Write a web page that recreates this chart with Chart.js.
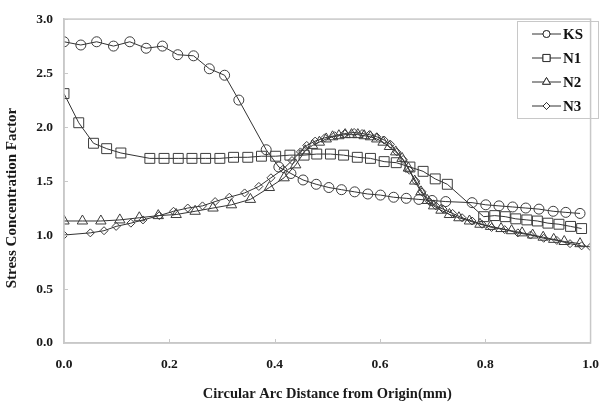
<!DOCTYPE html>
<html>
<head>
<meta charset="utf-8">
<script src="https://cdn.jsdelivr.net/npm/chart.js@4.4.1/dist/chart.umd.min.js"></script>
<style>
  html, body { margin: 0; padding: 0; background: #fff; }
  #wrap { width: 612px; height: 409px; }
</style>
</head>
<body>
<div id="wrap"><canvas id="grafico"></canvas></div>
<script>
'use strict';

// Stress concentration factor along the arc, one pair of arrays per model
const ksX = [0, 0.032, 0.062, 0.094, 0.125, 0.156, 0.187, 0.216, 0.246, 0.276, 0.305, 0.332,
    0.384, 0.408, 0.431, 0.454, 0.479, 0.503, 0.527, 0.552, 0.577, 0.601, 0.626, 0.650, 0.674,
    0.699, 0.725, 0.775, 0.801, 0.826, 0.852, 0.877, 0.902, 0.929, 0.953, 0.980];
const ksY = [2.79, 2.76, 2.79, 2.75, 2.79, 2.73, 2.75, 2.67, 2.66, 2.54, 2.48, 2.25,
    1.79, 1.63, 1.57, 1.51, 1.47, 1.44, 1.42, 1.40, 1.38, 1.37, 1.35, 1.34, 1.33,
    1.32, 1.31, 1.30, 1.28, 1.27, 1.26, 1.25, 1.24, 1.22, 1.21, 1.20];

const n1X = [0, 0.028, 0.056, 0.081, 0.108, 0.163, 0.190, 0.217, 0.243, 0.269, 0.296, 0.322,
    0.349, 0.375, 0.402, 0.429, 0.456, 0.480, 0.506, 0.531, 0.557, 0.582, 0.608, 0.631, 0.657,
    0.682, 0.705, 0.728, 0.797, 0.818, 0.838, 0.858, 0.879, 0.899, 0.919, 0.940, 0.962, 0.983];
const n1Y = [2.31, 2.04, 1.85, 1.80, 1.76, 1.71, 1.71, 1.71, 1.71, 1.71, 1.71, 1.72,
    1.72, 1.73, 1.73, 1.74, 1.74, 1.75, 1.75, 1.74, 1.72, 1.71, 1.68, 1.67, 1.63,
    1.59, 1.52, 1.47, 1.17, 1.18, 1.17, 1.15, 1.14, 1.13, 1.11, 1.10, 1.08, 1.06];

const n2X = [0, 0.035, 0.070, 0.106, 0.143, 0.179, 0.213, 0.249, 0.283, 0.318, 0.354, 0.390,
    0.418, 0.440, 0.458, 0.472, 0.485, 0.498, 0.510, 0.522, 0.534, 0.546, 0.558, 0.570, 0.582,
    0.594, 0.606, 0.618, 0.630, 0.642, 0.654, 0.666, 0.678, 0.690, 0.702, 0.716, 0.732, 0.750,
    0.770, 0.790, 0.810, 0.830, 0.850, 0.870, 0.890, 0.910, 0.930, 0.950, 0.980];
const n2Y = [1.13, 1.13, 1.13, 1.14, 1.16, 1.18, 1.19, 1.22, 1.25, 1.28, 1.33, 1.44,
    1.53, 1.65, 1.78, 1.83, 1.86, 1.89, 1.91, 1.92, 1.93, 1.93, 1.93, 1.92, 1.91,
    1.89, 1.86, 1.82, 1.77, 1.71, 1.62, 1.50, 1.40, 1.32, 1.27, 1.23, 1.19, 1.16,
    1.13, 1.10, 1.08, 1.06, 1.04, 1.02, 1.00, 0.98, 0.96, 0.94, 0.92];

const n3X = [0, 0.050, 0.076, 0.099, 0.127, 0.150, 0.181, 0.208, 0.235, 0.263, 0.287, 0.314,
    0.343, 0.370, 0.393, 0.416, 0.433, 0.449, 0.461, 0.477, 0.495, 0.514, 0.533, 0.551, 0.566,
    0.580, 0.594, 0.608, 0.620, 0.632, 0.644, 0.656, 0.668, 0.680, 0.694, 0.706, 0.720, 0.738,
    0.756, 0.775, 0.794, 0.812, 0.837, 0.862, 0.886, 0.911, 0.936, 0.961, 0.983, 1.0];
const n3Y = [1.00, 1.02, 1.04, 1.08, 1.11, 1.14, 1.18, 1.22, 1.25, 1.27, 1.31, 1.35,
    1.39, 1.45, 1.53, 1.61, 1.69, 1.77, 1.83, 1.87, 1.90, 1.92, 1.94, 1.95, 1.94,
    1.93, 1.91, 1.88, 1.84, 1.77, 1.70, 1.60, 1.50, 1.40, 1.31, 1.27, 1.24, 1.20,
    1.16, 1.13, 1.10, 1.07, 1.05, 1.02, 1.00, 0.97, 0.95, 0.92, 0.90, 0.89];

const yTicks = [0, 0.5, 1.0, 1.5, 2.0, 2.5, 3.0];
const xTicks = [0, 0.2, 0.4, 0.6, 0.8, 1.0];

const tituloY = 'Stress Concentration Factor';
const tituloX = 'Circular Arc Distance from Origin(mm)';

const series = [
    { label: 'KS', xs: ksX, ys: ksY, style: 'circle', radius: 5, legendRadius: 3.5 },
    { label: 'N1', xs: n1X, ys: n1Y, style: 'rect', radius: 7, legendRadius: 5 },
    { label: 'N2', xs: n2X, ys: n2Y, style: 'triangle', radius: 6, legendRadius: 4.5 },
    { label: 'N3', xs: n3X, ys: n3Y, style: 'rectRot', radius: 4, legendRadius: 3.5 }
];

const serif = 'Liberation Serif, Times New Roman, serif';
const gris = '#c8c8c8';
const tinta = '#333';

/**
 * Marco, marcas interiores de los ejes, título vertical y leyenda dentro del área.
 */
const marcoYLeyenda = {
    id: 'marcoYLeyenda',
    afterDraw(chart) {
        const { ctx, chartArea: a, scales } = chart;
        ctx.save();
        ctx.strokeStyle = gris;
        ctx.lineWidth = 1.5;
        ctx.strokeRect(a.left, a.top, a.right - a.left, a.bottom - a.top);

        ctx.lineWidth = 1;
        ctx.beginPath();
        yTicks.slice(1).forEach(v => {
            const py = Math.round(scales.y.getPixelForValue(v)) + 0.5;
            ctx.moveTo(a.left, py);
            ctx.lineTo(a.left + 4, py);
        });
        xTicks.slice(1, -1).forEach(v => {
            const px = Math.round(scales.x.getPixelForValue(v)) + 0.5;
            ctx.moveTo(px, a.bottom);
            ctx.lineTo(px, a.bottom - 4);
        });
        ctx.stroke();

        // título del eje y, algo por debajo del centro del área
        ctx.save();
        ctx.translate(12, 198);
        ctx.rotate(-Math.PI / 2);
        ctx.font = 'bold 15px ' + serif;
        ctx.fillStyle = '#1a1a1a';
        ctx.textAlign = 'center';
        ctx.textBaseline = 'middle';
        ctx.fillText(tituloY, 0, 0);
        ctx.restore();

        // leyenda
        const box = { x: 517, y: 21, w: 81, h: 97 };
        ctx.strokeStyle = gris;
        ctx.strokeRect(box.x + 0.5, box.y + 0.5, box.w, box.h);
        ctx.font = 'bold 15px ' + serif;
        ctx.textBaseline = 'middle';
        series.forEach((s, i) => {
            const cy = box.y + 13 + i * 24;
            ctx.strokeStyle = tinta;
            ctx.lineWidth = 1;
            ctx.beginPath();
            ctx.moveTo(532, cy);
            ctx.lineTo(561, cy);
            ctx.stroke();
            ctx.fillStyle = '#fff';
            Chart.helpers.drawPoint(ctx, { pointStyle: s.style, radius: s.legendRadius, rotation: 0, borderWidth: 1 }, 546.5, cy);
            ctx.fill();
            ctx.stroke();
            ctx.fillStyle = '#111';
            ctx.fillText(s.label, 563, cy + 1);
        });
        ctx.restore();
    }
};

const datasets = series.map(s => ({
    label: s.label,
    data: s.xs.map((x, i) => ({ x: x, y: s.ys[i] })),
    showLine: true,
    borderColor: tinta,
    borderWidth: 1,
    pointStyle: s.style,
    pointRadius: s.radius,
    pointBorderColor: '#3c3c3c',
    pointBorderWidth: 1,
    pointBackgroundColor: 'rgba(255,255,255,0)',
    tension: 0
}));

new Chart(document.getElementById('grafico').getContext('2d'), {
    type: 'scatter',
    data: { datasets: datasets },
    plugins: [marcoYLeyenda],
    options: {
        responsive: true,
        maintainAspectRatio: false,
        animation: false,
        layout: { padding: { top: 16, right: 11, left: 0, bottom: 0 } },
        plugins: { legend: { display: false }, tooltip: { enabled: false } },
        scales: {
            x: {
                type: 'linear',
                min: 0,
                max: 1,
                afterFit: scale => { scale.height = 66; },
                afterBuildTicks: scale => { scale.ticks = xTicks.map(v => ({ value: v })); },
                grid: { display: false, drawTicks: false },
                border: { color: gris, width: 1.5 },
                ticks: {
                    padding: 13,
                    color: '#1a1a1a',
                    font: { family: serif, size: 13.5, weight: 'bold' },
                    callback: v => v.toFixed(1)
                },
                title: {
                    display: true,
                    text: tituloX,
                    color: '#1a1a1a',
                    font: { family: serif, size: 14.5, weight: 'bold' },
                    padding: { top: 0, bottom: 6 }
                }
            },
            y: {
                min: 0,
                max: 3,
                afterFit: scale => { scale.width = 64; },
                afterBuildTicks: scale => { scale.ticks = yTicks.map(v => ({ value: v })); },
                grid: { display: false, drawTicks: false },
                border: { color: gris, width: 1.5 },
                ticks: {
                    padding: 11,
                    color: '#1a1a1a',
                    font: { family: serif, size: 13.5, weight: 'bold' },
                    callback: v => v.toFixed(1)
                }
            }
        }
    }
});
</script>
</body>
</html>
